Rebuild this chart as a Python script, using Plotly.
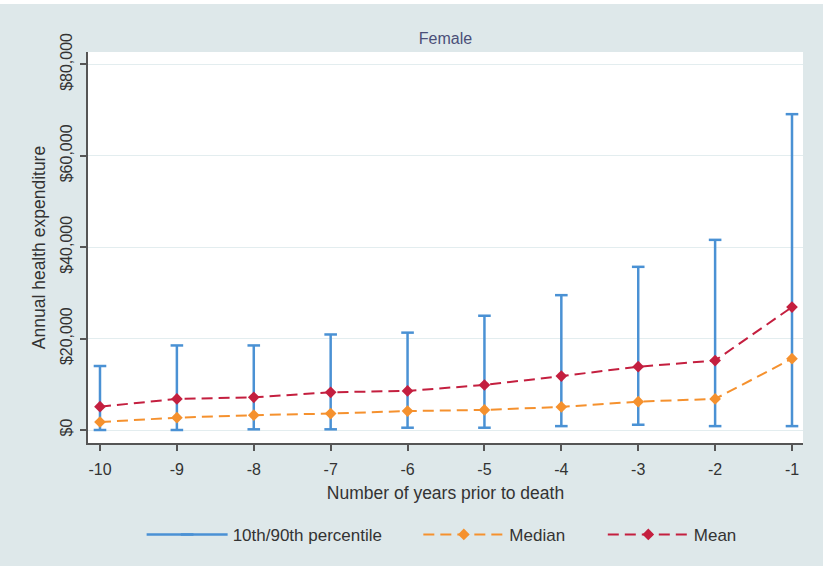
import plotly.graph_objects as go

# ---- data ----
years = [-10, -9, -8, -7, -6, -5, -4, -3, -2, -1]
mean_vals = [5100, 6800, 7150, 8250, 8550, 9850, 11800, 13850, 15200, 26900]
median_vals = [1750, 2700, 3250, 3600, 4150, 4400, 5050, 6200, 6800, 15600]
p10_vals = [0, 0, 150, 150, 500, 500, 850, 1150, 850, 850]
p90_vals = [14000, 18500, 18500, 20900, 21300, 25000, 29500, 35700, 41600, 69100]
y_ticks = [0, 20000, 40000, 60000, 80000]
x_ticks = years

BLUE = "#4a91d4"
ORANGE = "#f5912e"
CRIMSON = "#c41f3f"
BG = "#dee8ea"
TXT = "#333333"

# vertical range segments built from the percentile arrays
seg_x, seg_y = [], []
for x, lo, hi in zip(years, p10_vals, p90_vals):
    seg_x += [x, x, None]
    seg_y += [lo, hi, None]

fig = go.Figure()

fig.add_trace(go.Scatter(
    x=seg_x, y=seg_y, mode="lines+markers",
    name="10th/90th percentile", legend="legend",
    line=dict(color=BLUE, width=2.5),
    marker=dict(symbol="line-ew", size=9, line=dict(color=BLUE, width=2.5)),
))
fig.add_trace(go.Scatter(
    x=years, y=median_vals, mode="lines+markers", name="Median", legend="legend2",
    line=dict(color=ORANGE, width=2, dash="11px,6px"),
    marker=dict(symbol="diamond", size=9, color=ORANGE),
))
fig.add_trace(go.Scatter(
    x=years, y=mean_vals, mode="lines+markers", name="Mean", legend="legend3",
    line=dict(color=CRIMSON, width=2, dash="11px,6px"),
    marker=dict(symbol="diamond", size=9, color=CRIMSON),
))

leg_common = dict(orientation="h", y=-0.235, yanchor="middle", xanchor="left",
                  bgcolor="rgba(0,0,0,0)", font=dict(size=17, color=TXT),
                  itemwidth=81)

fig.update_layout(
    width=823, height=566,
    paper_bgcolor=BG, plot_bgcolor="white",
    margin=dict(l=88, r=20, t=52, b=123),
    font=dict(family="Liberation Sans, Arial, sans-serif", size=16, color=TXT),
    title=dict(text="Female", x=0.5, xref="paper", xanchor="center",
               y=1 - 38 / 566, yanchor="middle",
               font=dict(size=16, color="#4a4f78")),
    showlegend=True,
    legend=dict(x=0.075, **leg_common),
    legend2=dict(x=0.462, **leg_common),
    legend3=dict(x=0.72, **leg_common),
    shapes=[dict(type="rect", xref="paper", yref="paper", layer="above",
                 x0=-0.2, x1=1.1, y0=1 + 48 / 391, y1=1.2,
                 fillcolor="white", line=dict(width=0))],
)

fig.update_xaxes(
    range=[-10.156, -0.857], tickvals=x_ticks, ticktext=[str(v) for v in x_ticks],
    showgrid=False, zeroline=False,
    showline=True, linecolor="#555555", linewidth=1.5,
    ticks="outside", ticklen=6, tickcolor="#555555", tickwidth=1.5,
    tickfont=dict(size=16), ticklabelstandoff=5,
    title=dict(text="Number of years prior to death", font=dict(size=17.5), standoff=10),
)
fig.update_yaxes(
    range=[-2844, 82700], tickvals=y_ticks,
    ticktext=["${:,}".format(v) for v in y_ticks],
    tickangle=-90,
    showgrid=True, gridcolor="#e3edef", gridwidth=1.2, zeroline=False,
    showline=True, linecolor="#555555", linewidth=1.5,
    ticks="outside", ticklen=6, tickcolor="#555555", tickwidth=1.5,
    tickfont=dict(size=16), ticklabelstandoff=2,
    title=dict(text="Annual health expenditure", font=dict(size=17.5), standoff=8),
)

fig.write_html("out.html", config={"displayModeBar": False},
               post_script="document.body.style.margin='0';")
